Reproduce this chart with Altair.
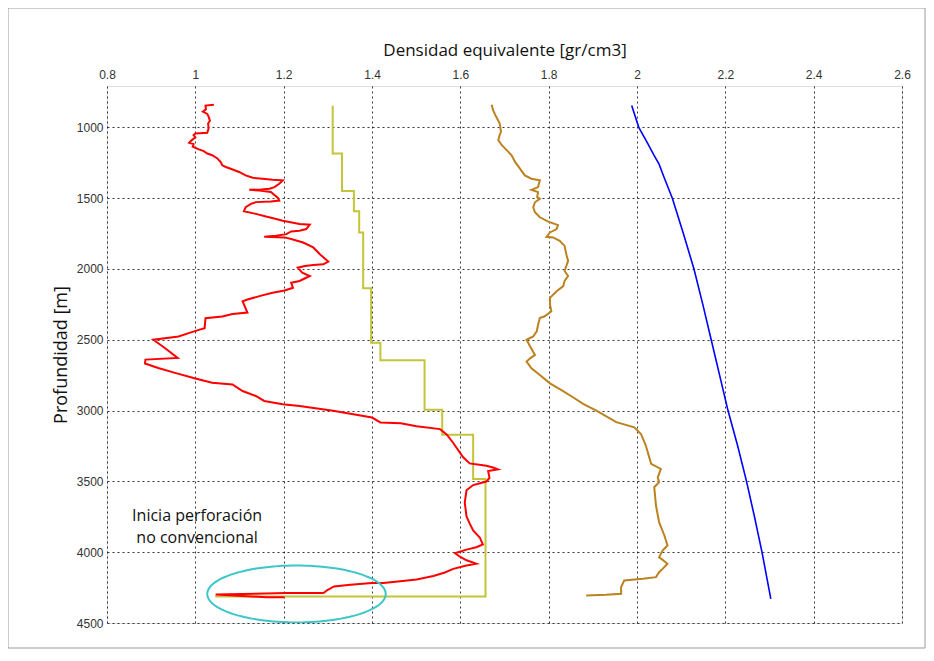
import altair as alt
import pandas as pd
import numpy as np

# ---- data (density in gr/cm3, depth in m) ----
red_x = [1.042, 1.023, 1.024, 1.017, 1.027, 1.030, 1.033, 1.029, 1.030, 1.027, 1.000, 0.996, 1.000, 0.992,
         0.986, 0.996, 0.994, 1.008, 1.019, 1.027, 1.038, 1.050, 1.057, 1.061, 1.069, 1.080, 1.099, 1.114,
         1.130, 1.152, 1.175, 1.198, 1.190, 1.179, 1.168, 1.149, 1.122, 1.145, 1.171, 1.187, 1.190, 1.171,
         1.137, 1.126, 1.114, 1.110, 1.137, 1.160, 1.183, 1.198, 1.236, 1.259, 1.251, 1.236, 1.217, 1.206,
         1.183, 1.156, 1.202, 1.217, 1.244, 1.267, 1.282, 1.301, 1.290, 1.267, 1.248, 1.232, 1.242, 1.259,
         1.251, 1.236, 1.217, 1.221, 1.202, 1.175, 1.145, 1.118, 1.107,
         1.118, 1.084, 1.061, 1.023, 1.021, 1.008, 0.985, 0.962, 0.905, 0.931, 0.960, 0.887, 0.886, 0.916,
         0.954, 1.000, 1.038, 1.084, 1.107, 1.137, 1.156, 1.198, 1.236, 1.312, 1.400, 1.419, 1.465,
         1.501, 1.554, 1.569, 1.584, 1.606, 1.621, 1.659, 1.674, 1.685, 1.663, 1.666, 1.659, 1.629, 1.614,
         1.610, 1.614, 1.621, 1.629, 1.644, 1.651, 1.636, 1.614, 1.588, 1.599, 1.614, 1.636, 1.614, 1.584,
         1.565, 1.539, 1.501, 1.464, 1.426, 1.400, 1.351, 1.314, 1.299, 1.291, 1.286, 1.206, 1.046, 1.160,
         1.202]
red_d = [841, 846, 872, 889, 905, 924, 953, 972, 1007, 1038, 1043, 1055, 1071, 1090,
         1109, 1118, 1137, 1156, 1168, 1185, 1197, 1220, 1244, 1268, 1280, 1292, 1315, 1339,
         1356, 1363, 1370, 1374, 1398, 1422, 1434, 1438, 1441, 1446, 1457, 1498, 1517, 1524,
         1528, 1540, 1564, 1592, 1611, 1630, 1647, 1659, 1683, 1687, 1718, 1730, 1735, 1754,
         1765, 1773, 1777, 1789, 1813, 1848, 1896, 1948, 1967, 1972, 1979, 1991, 2026, 2050,
         2062, 2085, 2097, 2133, 2152, 2168, 2192, 2216, 2228,
         2308, 2318, 2336, 2348, 2418, 2430, 2453, 2477, 2500, 2558, 2628, 2640, 2668, 2699,
         2734, 2773, 2804, 2815, 2862, 2897, 2932, 2956, 2967, 3002, 3049, 3084, 3089,
         3111, 3131, 3168, 3229, 3328, 3373, 3390, 3402, 3415, 3427, 3476, 3501, 3526, 3563,
         3649, 3748, 3797, 3847, 3896, 3946, 3965, 3982, 4007, 4032, 4057, 4081, 4094, 4118,
         4143, 4168, 4193, 4205, 4217, 4217, 4230, 4242, 4267, 4286, 4289, 4289, 4298, 4318,
         4319]

yel_x = [1.311, 1.311, 1.332, 1.332, 1.359, 1.359, 1.371, 1.371, 1.380, 1.380, 1.398, 1.398, 1.419,
         1.419, 1.519, 1.519, 1.559, 1.559, 1.629, 1.629, 1.657, 1.657, 1.045]
yel_d = [847, 1185, 1185, 1449, 1449, 1593, 1593, 1743, 1743, 2136, 2136, 2521, 2521,
         2644, 2644, 2995, 2995, 3170, 3170, 3484, 3484, 4312, 4312]

brn_x = [1.671, 1.674, 1.679, 1.683, 1.689, 1.692, 1.689, 1.686, 1.694, 1.705, 1.716, 1.724, 1.735,
         1.746, 1.761, 1.780, 1.776, 1.761, 1.776, 1.774, 1.780, 1.769, 1.765, 1.769, 1.780, 1.799,
         1.821, 1.818, 1.803, 1.795, 1.810, 1.825, 1.836, 1.840, 1.844, 1.840, 1.836, 1.844, 1.836,
         1.833, 1.818, 1.803, 1.803, 1.806, 1.791, 1.780, 1.776, 1.773, 1.765, 1.750, 1.758, 1.769,
         1.758, 1.750, 1.761, 1.780, 1.803, 1.829, 1.855, 1.878, 1.908, 1.953, 1.994, 2.009, 2.020,
         2.032, 2.054, 2.047, 2.050, 2.039, 2.043, 2.050, 2.062, 2.069, 2.058, 2.050, 2.069, 2.058,
         2.050, 2.043, 2.013, 1.971, 1.964, 1.964, 1.930, 1.885]
brn_d = [841, 877, 912, 936, 972, 1031, 1055, 1090, 1126, 1161, 1197, 1244, 1292,
         1339, 1363, 1374, 1422, 1441, 1457, 1493, 1505, 1529, 1564, 1600, 1635, 1666,
         1690, 1718, 1742, 1773, 1777, 1801, 1837, 1896, 1943, 1979, 2014, 2050, 2085,
         2121, 2157, 2204, 2251, 2299, 2334, 2346, 2394, 2441, 2477, 2500, 2548, 2607,
         2631, 2654, 2702, 2749, 2808, 2856, 2906, 2953, 3000, 3082, 3118, 3165, 3247,
         3376, 3412, 3471, 3506, 3541, 3671, 3788, 3882, 3953, 3988, 4035, 4082, 4118,
         4141, 4176, 4188, 4200, 4247, 4294, 4301, 4306]

blu_x = [1.988, 2.004, 2.022, 2.039, 2.050, 2.061, 2.080, 2.105, 2.129, 2.149, 2.168, 2.187, 2.206,
         2.228, 2.248, 2.266, 2.283, 2.303]
blu_d = [846, 1000, 1100, 1200, 1260, 1350, 1500, 1750, 2000, 2250, 2500, 2750, 3000,
         3250, 3500, 3750, 4000, 4330]

# annotation ellipse (centre and radii in data units)
ell_cx, ell_cy, ell_rx, ell_ry = 1.229, 4295, 0.202, 201
note_text = "Inicia perforación\nno convencional"
note_x, note_d = 1.004, 3745

x_ticks = [0.8, 1.0, 1.2, 1.4, 1.6, 1.8, 2.0, 2.2, 2.4, 2.6]
y_ticks = [1000, 1500, 2000, 2500, 3000, 3500, 4000, 4500]


def frame(xs, ds):
    return pd.DataFrame({"x": xs, "d": ds, "i": list(range(len(xs)))})


t = np.linspace(0, 2 * np.pi, 121)
ell_df = frame(list(ell_cx + ell_rx * np.cos(t)), list(ell_cy + ell_ry * np.sin(t)))

xscale = alt.Scale(domain=[0.8, 2.6], nice=False, zero=False)
yscale = alt.Scale(domain=[708, 4500], reverse=True, nice=False, zero=False)

xaxis = alt.Axis(orient="top", title="Densidad equivalente [gr/cm3]", values=x_ticks, format="~g",
                 grid=True, gridDash=[2, 3], gridColor="#222222", gridWidth=1, gridOpacity=0.9,
                 tickSize=0, domain=False, labelFont="Liberation Sans", labelFontSize=12,
                 labelColor="#333333", labelPadding=5, labelFlush=False,
                 titleFont="Open Sans", titleFontSize=17, titleFontWeight="normal",
                 titleColor="#111111", titlePadding=9)
yaxis = alt.Axis(title="Profundidad [m]", values=y_ticks, format="d",
                 grid=True, gridDash=[2, 3], gridColor="#222222", gridWidth=1, gridOpacity=0.9,
                 tickSize=0, domain=False, labelFont="Liberation Sans", labelFontSize=12,
                 labelColor="#333333", labelPadding=4, labelFlush=False,
                 titleFont="Open Sans", titleFontSize=18, titleFontWeight="normal",
                 titleColor="#111111", titlePadding=6)


def line(df, color, width):
    return alt.Chart(df).mark_line(color=color, strokeWidth=width, clip=True).encode(
        x=alt.X("x:Q", scale=xscale, axis=xaxis),
        y=alt.Y("d:Q", scale=yscale, axis=yaxis),
        order=alt.Order("i:Q"),
    )


red = line(frame(red_x, red_d), "#ff0000", 2)
yel = line(frame(yel_x, yel_d), "#c4c43a", 2)
brn = line(frame(brn_x, brn_d), "#bb821f", 2)
blu = line(frame(blu_x, blu_d), "#0000ff", 1.6)
ell = line(ell_df, "#3cc6c8", 2)

note = alt.Chart(pd.DataFrame({"x": [note_x], "d": [note_d], "t": [note_text]})).mark_text(
    align="center", baseline="middle", lineBreak="\n", font="Open Sans", fontSize=16,
    lineHeight=22, color="#111111"
).encode(
    x=alt.X("x:Q", scale=xscale, axis=xaxis),
    y=alt.Y("d:Q", scale=yscale, axis=yaxis),
    text="t:N",
)

border = alt.Chart(pd.DataFrame({"a": [0]})).mark_rect(
    fill=None, stroke="#9a9a9a", strokeWidth=1
).encode(x=alt.value(-99), x2=alt.value(818), y=alt.value(-78), y2=alt.value(562))

chart = alt.layer(border, yel, red, brn, blu, ell, note).properties(
    width=795, height=537,
    autosize=alt.AutoSizeParams(type="none"),
    padding={"left": 99, "top": 78, "right": 24, "bottom": 30},
).configure_view(stroke="#808080", strokeWidth=1.6).configure(background="white")

chart.save("out.html", embed_options={"renderer": "svg", "actions": False})
